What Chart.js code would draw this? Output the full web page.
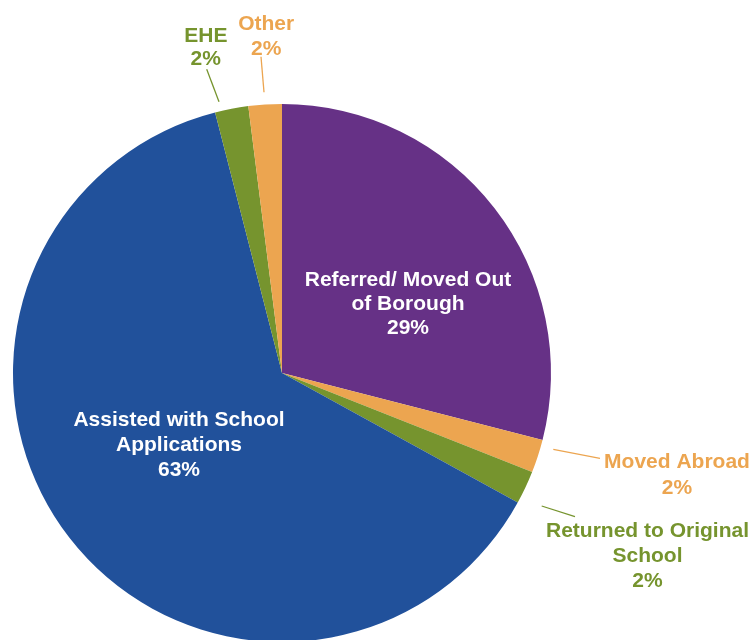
<!DOCTYPE html>
<html>
<head>
<meta charset="utf-8">
<title>Outcomes</title>
<script src="https://cdn.jsdelivr.net/npm/chart.js@4/dist/chart.umd.min.js"></script>
<style>
  html, body { margin: 0; padding: 0; background: #ffffff; overflow: hidden; }
  #wrap { width: 754px; height: 640px; overflow: hidden; }
  canvas { display: block; }
</style>
</head>
<body>
<div id="wrap"><canvas id="pie" width="754" height="700"></canvas></div>
<script>
// Outcome categories, clockwise from 12 o'clock
const categories = [
  ['Referred/ Moved Out', 'of Borough'],
  ['Moved Abroad'],
  ['Returned to Original', 'School'],
  ['Assisted with School', 'Applications'],
  ['EHE'],
  ['Other']
];
// Share of cases (%)
const shares = [29, 2, 2, 63, 2, 2];

const sliceColors = ['#663186', '#ECA550', '#76942E', '#21519B', '#76942E', '#ECA550'];
const labelColors = ['#ffffff', '#ECA550', '#76942E', '#ffffff', '#76942E', '#ECA550'];

// Label placement, offsets from the pie centre (px): text centre x, first baseline y,
// line height, and an optional leader line [x1, y1, x2, y2]
const labelLayout = [
  { dx: 126,    dy: -87,    lh: 24 },
  { dx: 395,    dy: 94.7,   lh: 26,   leader: [271.3, 76.3, 318, 85.3] },
  { dx: 365.5,  dy: 164.3,  lh: 25,   leader: [259.7, 133, 293, 143.7] },
  { dx: -103,   dy: 53,     lh: 25 },
  { dx: -76.2,  dy: -331.3, lh: 23.3, leader: [-75.3, -303.7, -63, -271.3] },
  { dx: -15.8,  dy: -343,   lh: 25,   leader: [-21, -316.3, -18, -280.7] }
];

const sliceLabels = {
  id: 'sliceLabels',
  afterDatasetsDraw(chart) {
    const ctx = chart.ctx;
    const meta = chart.getDatasetMeta(0);
    const cx = meta.data[0].x, cy = meta.data[0].y;
    const values = chart.data.datasets[0].data;
    ctx.save();
    ctx.font = 'bold 21px "Liberation Sans", Arial, sans-serif';
    ctx.textAlign = 'center';
    ctx.textBaseline = 'alphabetic';
    labelLayout.forEach((lay, i) => {
      const color = labelColors[i];
      if (lay.leader) {
        const [x1, y1, x2, y2] = lay.leader;
        ctx.strokeStyle = color;
        ctx.lineWidth = 1.3;
        ctx.beginPath();
        ctx.moveTo(cx + x1, cy + y1);
        ctx.lineTo(cx + x2, cy + y2);
        ctx.stroke();
      }
      const lines = categories[i].concat([values[i] + '%']);
      ctx.fillStyle = color;
      lines.forEach((t, k) => {
        ctx.fillText(t, cx + lay.dx, cy + lay.dy + k * lay.lh);
      });
    });
    ctx.restore();
  }
};

new Chart(document.getElementById('pie'), {
  type: 'pie',
  data: {
    labels: categories.map(c => c.join(' ')),
    datasets: [{
      data: shares,
      backgroundColor: sliceColors,
      borderWidth: 0
    }]
  },
  options: {
    responsive: false,
    animation: false,
    layout: { padding: { left: 13, top: 104, right: 203, bottom: 58 } },
    plugins: {
      legend: { display: false },
      tooltip: { enabled: false }
    }
  },
  plugins: [sliceLabels]
});
</script>
</body>
</html>
